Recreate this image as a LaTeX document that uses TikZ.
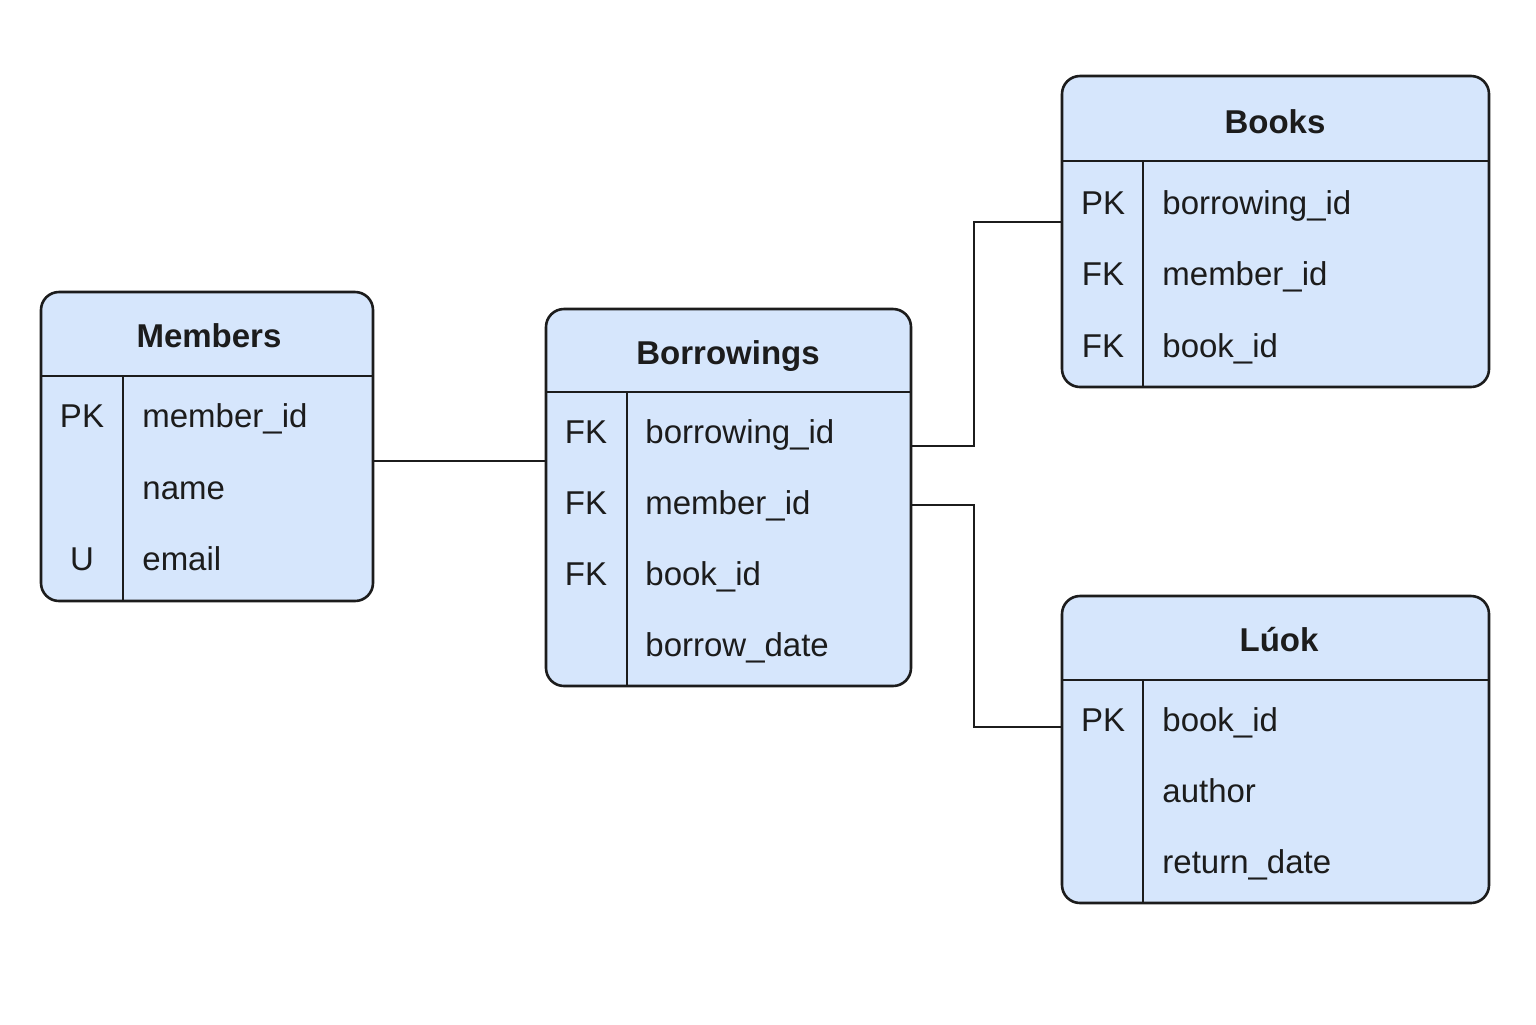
\documentclass[tikz,border=0pt]{standalone}
\usepackage{fontspec}
\setmainfont{Liberation Sans}
\definecolor{tblfill}{RGB}{214,230,252}
\definecolor{ink}{RGB}{28,28,28}
\begin{document}
\begin{tikzpicture}[x=0.5pt,y=-0.5pt,
  tbl/.style={draw=ink, line width=1.3pt, fill=tblfill, rounded corners=9pt, rectangle, inner sep=0pt},
  sepline/.style={draw=ink, line width=1.2pt},
  ttl/.style={font=\fontsize{16.5pt}{19pt}\selectfont\bfseries, text=ink, anchor=base, inner sep=0pt},
  keyt/.style={font=\fontsize{16.5pt}{19pt}\selectfont, text=ink, anchor=base, inner sep=0pt},
  fld/.style={font=\fontsize{16.5pt}{19pt}\selectfont, text=ink, anchor=base west, inner sep=0pt},
  conn/.style={draw=ink, line width=1.2pt}]
\useasboundingbox[fill=white] (0,0) rectangle (1536,1024);

% Members
\node[tbl, minimum width=166pt, minimum height=154.5pt] (members) at (207,446.5) {};
\draw[sepline] (41,376) -- (373,376);
\draw[sepline] (123,376) -- (123,601);
\node[ttl] (mt) at (209,347) {Members};
\node[keyt] (mk1) at (82,427) {PK};
\node[fld] (mf1) at (142,427) {member\_id};
\node[fld] (mf2) at (142,499) {name};
\node[keyt] (mk3) at (82,570) {U};
\node[fld] (mf3) at (142,570) {email};

% Borrowings
\node[tbl, minimum width=182.5pt, minimum height=188.5pt] (borrow) at (728.5,497.5) {};
\draw[sepline] (546,392) -- (911,392);
\draw[sepline] (627,392) -- (627,686);
\node[ttl] (bt) at (728,364) {Borrowings};
\node[keyt] (bk1) at (586,443) {FK};
\node[fld] (bf1) at (645,443) {borrowing\_id};
\node[keyt] (bk2) at (586,514) {FK};
\node[fld] (bf2) at (645,514) {member\_id};
\node[keyt] (bk3) at (586,585) {FK};
\node[fld] (bf3) at (645,585) {book\_id};
\node[fld] (bf4) at (645,656) {borrow\_date};

% Books
\node[tbl, minimum width=213.5pt, minimum height=155.5pt] (books) at (1275.5,231.5) {};
\draw[sepline] (1062,161) -- (1489,161);
\draw[sepline] (1143,161) -- (1143,387);
\node[ttl] (kt) at (1275,133) {Books};
\node[keyt] (kk1) at (1103,214) {PK};
\node[fld] (kf1) at (1162,214) {borrowing\_id};
\node[keyt] (kk2) at (1103,285) {FK};
\node[fld] (kf2) at (1162,285) {member\_id};
\node[keyt] (kk3) at (1103,357) {FK};
\node[fld] (kf3) at (1162,357) {book\_id};

% Luok
\node[tbl, minimum width=213.5pt, minimum height=153.5pt] (luok) at (1275.5,749.5) {};
\draw[sepline] (1062,680) -- (1489,680);
\draw[sepline] (1143,680) -- (1143,903);
\node[ttl] (lt) at (1279,651) {Lúok};
\node[keyt] (lk1) at (1103,731) {PK};
\node[fld] (lf1) at (1162,731) {book\_id};
\node[fld] (lf2) at (1162,802) {author};
\node[fld] (lf3) at (1162,873) {return\_date};

% connectors
\coordinate (c1) at (0,461);
\coordinate (c2) at (0,446);
\coordinate (c3) at (0,222);
\coordinate (c4) at (0,505);
\coordinate (c5) at (0,727);
\coordinate (jx) at (974,0);
\draw[conn] (members.east |- c1) -- (borrow.west |- c1);
\draw[conn] (borrow.east |- c2) -- (jx |- c2) -- (jx |- c3) -- (books.west |- c3);
\draw[conn] (borrow.east |- c4) -- (jx |- c4) -- (jx |- c5) -- (luok.west |- c5);
\end{tikzpicture}
\end{document}
